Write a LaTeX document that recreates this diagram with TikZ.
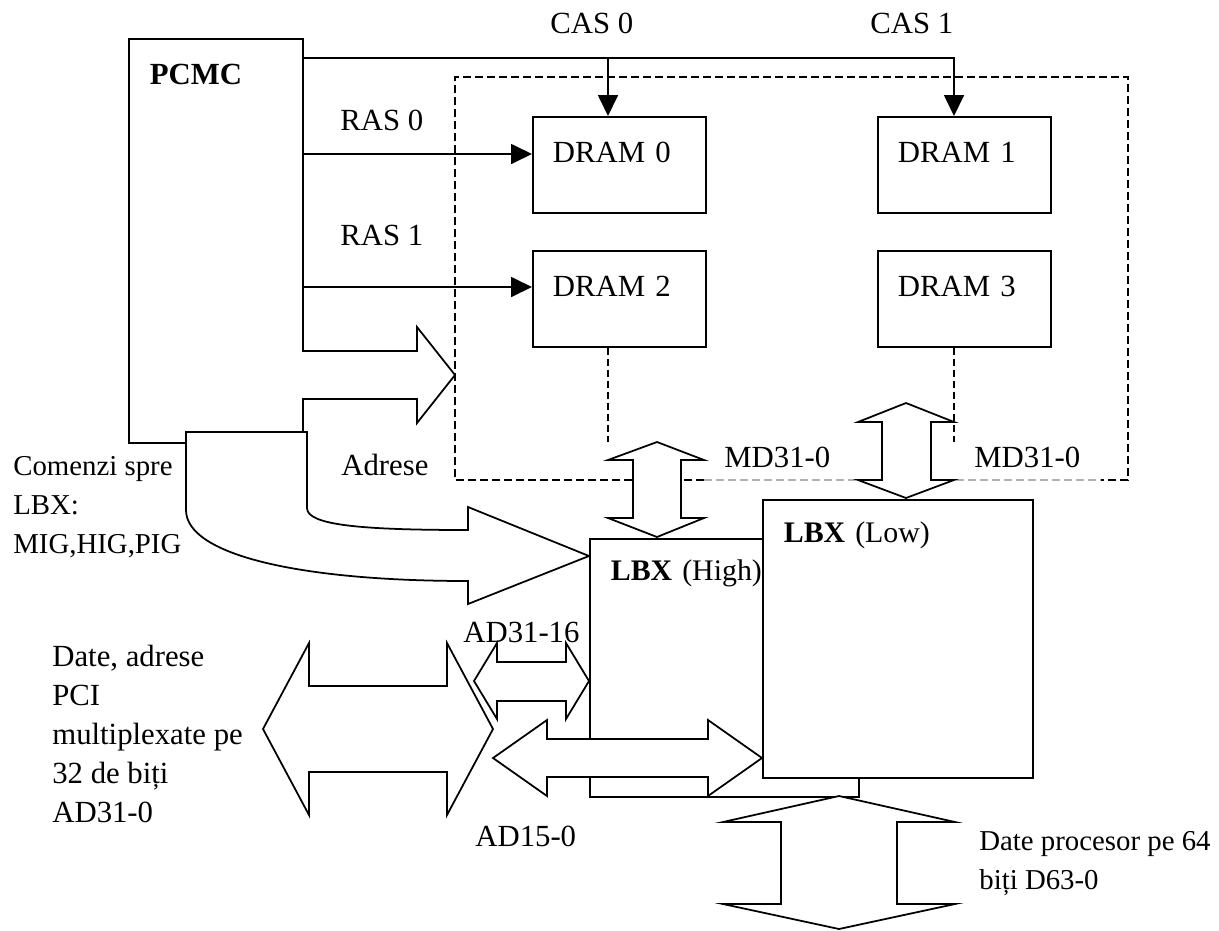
\documentclass[tikz,border=0pt]{standalone}
\usepackage{fontspec}
\setmainfont{Liberation Serif}
\usetikzlibrary{arrows.meta,calc}

\begin{document}
\begin{tikzpicture}[x=0.02cm, y=-0.02cm,
    every node/.style={font=\fontsize{17.5pt}{22.2pt}\selectfont},
    unit/.style={draw, line width=1pt, fill=white, anchor=north west, align=left, inner xsep=0.42cm, inner ysep=0.5cm, text height=0.42cm},
    lbl/.style={anchor=base west, inner sep=0pt},
    txt/.style={anchor=north west, inner sep=0pt, align=left},
    small/.style={font=\fontsize{16.4pt}{22.2pt}\selectfont},
    sig/.style={line width=1pt, -{Triangle[length=0.42cm, width=0.4cm]}},
    bus/.style={draw, line width=1pt, fill=white, line join=miter},
    frame/.style={line width=0.8pt, dash pattern=on 0.16cm off 0.08cm},
    tap/.style={line width=0.6pt, dash pattern=on 0.14cm off 0.08cm}]
    \useasboundingbox (0,0) rectangle (1219,930);

    % Memory bank frame
    \draw[frame] (704,480) -- (455,480) -- (455,77) -- (1128,77) -- (1128,480) -- (1100,480);
    \draw[frame, gray!60, line width=0.6pt] (704,480) -- (1100,480);

    % Controller and DRAM banks
    \node[unit, text width=2.64cm, text depth=6.66cm] (pcmc) at (128,38) {\textbf{PCMC}};
    \node[unit, inner xsep=0.4cm, text width=2.66cm, text depth=0.5cm] (dram0) at (532,116) {DRAM 0};
    \node[unit, inner xsep=0.4cm, text width=2.66cm, text depth=0.5cm] (dram1) at (877,116) {DRAM 1};
    \node[unit, inner xsep=0.4cm, text width=2.66cm, text depth=0.5cm] (dram2) at (532,250) {DRAM 2};
    \node[unit, inner xsep=0.4cm, text width=2.66cm, text depth=0.5cm] (dram3) at (877,250) {DRAM 3};

    % CAS / RAS lines
    \draw[sig] (pcmc.east |- 0,58) -| (dram1.north -| 954,0);
    \draw[sig] (608,58) -- (dram0.north -| 608,0);
    \draw[sig] (pcmc.east |- 0,154) -- (dram0.west |- 0,154);
    \draw[sig] (pcmc.east |- 0,287) -- (dram2.west |- 0,287);

    % Data taps of the banks
    \draw[tap] (dram2.south -| 608,0) -- (608,442);
    \draw[tap] (dram3.south -| 954,0) -- (954,442);

    % Address bus
    \path[bus] (302,351) -- (417,351) -- (417,327) -- (455,375) -- (417,423) -- (417,399) -- (302,399);

    % Commands to LBX
    \path[bus] (186,432) -- (307,432) -- (307,508) .. controls (307,525) and (360,530) .. (468,530)
        -- (468,507) -- (589,556) -- (468,604) -- (468,581) .. controls (300,581) and (186,555) .. (186,510) -- cycle;

    % LBX pair
    \node[unit, font=\fontsize{17pt}{22.2pt}\selectfont, inner ysep=0.42cm, text width=4.54cm, text depth=3.9cm] (lbxh) at (589,538) {\textbf{LBX} (High)};
    \node[unit, font=\fontsize{17pt}{22.2pt}\selectfont, inner ysep=0.44cm, text width=4.56cm, text depth=4.26cm] (lbxl) at (762,499) {\textbf{LBX} (Low)};

    % Memory data buses
    \path[bus] (657,442) -- (704,460) -- (681,460) -- (681,518) -- (704,518) -- (657,537)
        -- (608,518) -- (633,518) -- (633,460) -- (608,460) -- cycle;
    \path[bus] (906,403) -- (954,422) -- (931,422) -- (931,480) -- (954,480) -- (906,498)
        -- (858,480) -- (882,480) -- (882,422) -- (858,422) -- cycle;

    % PCI buses
    \path[bus] (474,681) -- (497,643) -- (497,662) -- (566,662) -- (566,643) -- (589,681)
        -- (566,719) -- (566,701) -- (497,701) -- (497,719) -- cycle;
    \path[bus] (263,729) -- (309,643) -- (309,686) -- (447,686) -- (447,643) -- (493,729)
        -- (447,815) -- (447,772) -- (309,772) -- (309,815) -- cycle;
    \path[bus] (493,758) -- (547,720) -- (547,739) -- (708,739) -- (708,720) -- (762,758)
        -- (708,796) -- (708,777) -- (547,777) -- (547,796) -- cycle;

    % Processor data bus
    \path[bus] (839,796) -- (955,822) -- (897,822) -- (897,904) -- (955,904) -- (839,929)
        -- (723,904) -- (781,904) -- (781,822) -- (723,822) -- cycle;

    % Labels
    \node[lbl] (cas0) at (550,33) {CAS 0};
    \node[lbl] (cas1) at (870,33) {CAS 1};
    \node[lbl] (ras0) at (340,130) {RAS 0};
    \node[lbl] (ras1) at (340,245) {RAS 1};
    \node[lbl] (adr) at (341,475) {Adrese};
    \node[lbl] (md0) at (724,467) {MD31-0};
    \node[lbl] (md1) at (974,467) {MD31-0};
    \node[lbl] (ad16) at (463,642) {AD31-16};
    \node[lbl] (ad0) at (475,846) {AD15-0};
    \node[txt, small] (cmd) at (13,456) {Comenzi spre\\LBX:\\MIG,HIG,PIG};
    \node[txt] (pci) at (52,645) {Date, adrese\\PCI\\multiplexate pe\\32 de biți\\AD31-0};
    \node[txt, small] (cpu) at (979,831) {Date procesor pe 64\\biți D63-0};
\end{tikzpicture}
\end{document}
